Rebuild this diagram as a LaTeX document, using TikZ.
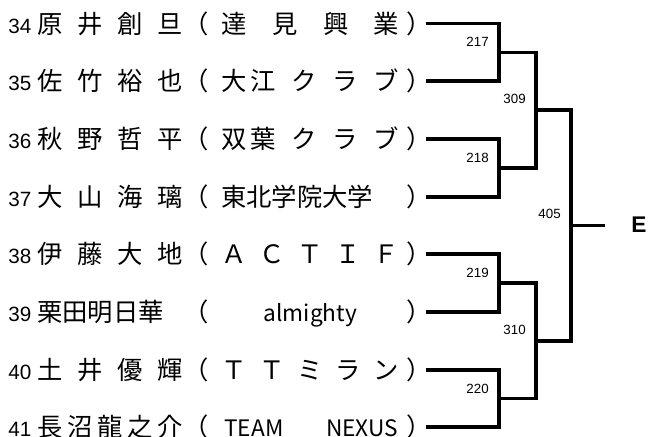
\documentclass[tikz,border=0pt]{standalone}
\usepackage{fontspec}
\setmainfont{Liberation Sans}[BoldFont={* Bold}]
\newfontfamily\jp{Noto Sans CJK JP}
\usetikzlibrary{calc}
\newlength\px
\setlength\px{0.75pt}
\newcommand{\numfont}{\fontsize{15.5pt}{15.5pt}\selectfont}
\newcommand{\lat}{\fontsize{17pt}{17pt}\selectfont}
% one row: number, name, (club)
\newcommand{\entrant}[3]{%
  \makebox[29\px][l]{\numfont #1}%
  \makebox[146\px][s]{\jp #2}%
  {\jp （}\hspace{12.7\px}%
  \makebox[178\px][s]{\jp #3}%
  \hspace{7\px}\makebox[19\px][l]{\jp ）}}
\tikzset{
  entrant/.style={anchor=west,inner sep=0pt,text height=16pt,text depth=1.6pt,font=\fontsize{19pt}{19pt}\selectfont},
  tie/.style={line width=2.3pt},
  matchno/.style={anchor=south east,inner sep=0pt,font=\fontsize{10pt}{10pt}\selectfont},
  winner/.style={anchor=west,inner sep=0pt,font=\fontsize{17pt}{17pt}\selectfont\bfseries},
}
\begin{document}
\begin{tikzpicture}[x=0.75pt,y=-0.75pt]
    \useasboundingbox (0,0) rectangle (650,436);
    \node[entrant] (e34) at (8,23.5) {\entrant{34}{原\hfil 井\hfil 創\hfil 旦}{達\hfil 見\hfil 興\hfil 業}};
    \node[entrant] (e35) at (8,81) {\entrant{35}{佐\hfil 竹\hfil 裕\hfil 也}{大\kern4\px 江\hfil ク\hfil ラ\hfil ブ}};
    \node[entrant] (e36) at (8,139) {\entrant{36}{秋\hfil 野\hfil 哲\hfil 平}{双\kern4\px 葉\hfil ク\hfil ラ\hfil ブ}};
    \node[entrant] (e37) at (8,197) {\entrant{37}{大\hfil 山\hfil 海\hfil 璃}{東北学院大学\hfil}};
    \node[entrant] (e38) at (8,254) {\entrant{38}{伊\hfil 藤\hfil 大\hfil 地}{Ａ\hfil Ｃ\hfil Ｔ\hfil Ｉ\hfil Ｆ}};
    \node[entrant] (e39) at (8,312) {\entrant{39}{栗田明日華\hfil}{\hfil{\lat almighty}\hfil}};
    \node[entrant] (e40) at (8,370) {\entrant{40}{土\hfil 井\hfil 優\hfil 輝}{Ｔ\hfil Ｔ\hfil ミ\hfil ラ\hfil ン}};
    \node[entrant] (e41) at (8,427) {\entrant{41}{長\hfil 沼\hfil 龍\hfil 之\hfil 介}{\hspace{3\px}{\lat TEAM}\hfil{\lat NEXUS}\hspace{1\px}}};

    % match points
    \coordinate (m217) at (499,52.25);
    \coordinate (m218) at (499,168);
    \coordinate (m219) at (499,283);
    \coordinate (m220) at (499,398.5);
    \coordinate (m309) at (536,110);
    \coordinate (m310) at (536,341);
    \coordinate (m405) at (571,225.5);
    \coordinate (out) at (605,225.5);

    \draw[tie] (e34.east) -| (m217) |- (e35.east);
    \draw[tie] (e36.east) -| (m218) |- (e37.east);
    \draw[tie] (e38.east) -| (m219) |- (e39.east);
    \draw[tie] (e40.east) -| (m220) |- (e41.east);
    \draw[tie] (m217) -| (m309) |- (m218);
    \draw[tie] (m219) -| (m310) |- (m220);
    \draw[tie] (m309) -| (m405) |- (m310);
    \draw[tie] (m405) -- (out);

    \node[matchno] (n217) at ($(m217)+(-10,-5)$) {217};
    \node[matchno] (n218) at ($(m218)+(-10,-5)$) {218};
    \node[matchno] (n219) at ($(m219)+(-10,-5)$) {219};
    \node[matchno] (n220) at ($(m220)+(-10,-5)$) {220};
    \node[matchno] (n309) at ($(m309)+(-10,-6)$) {309};
    \node[matchno] (n310) at ($(m310)+(-10,-6)$) {310};
    \node[matchno] (n405) at ($(m405)+(-10,-7)$) {405};
    \node[winner] (champ) at (631,225) {E};
  \end{tikzpicture}
\end{document}
